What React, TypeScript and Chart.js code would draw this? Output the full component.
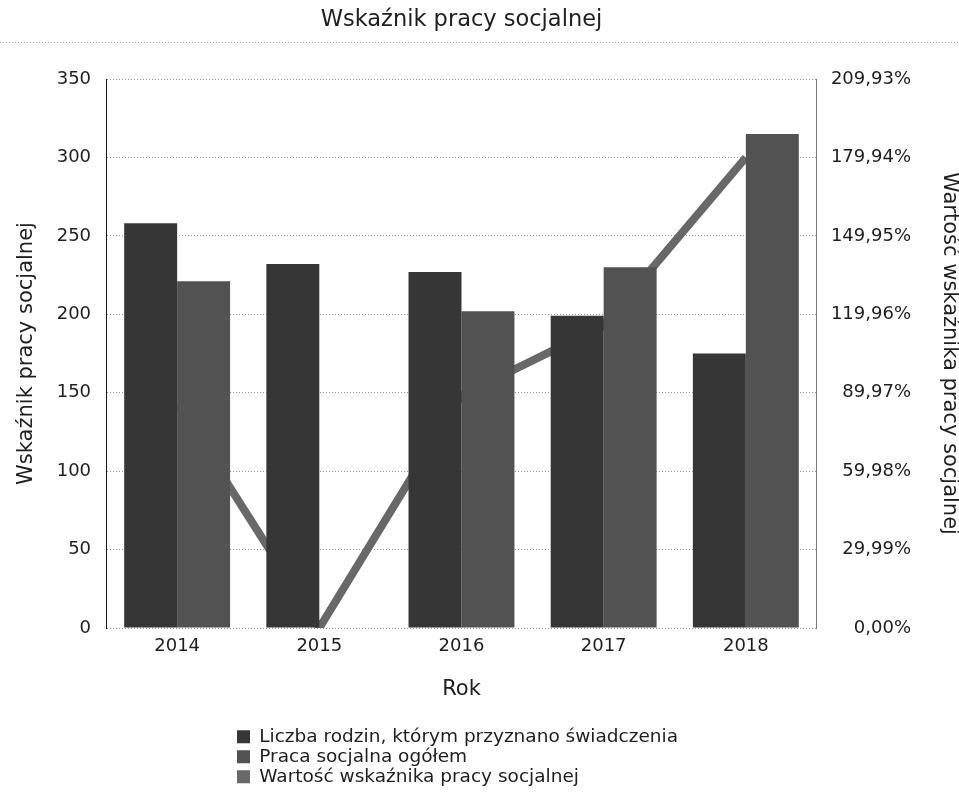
import React, { useEffect, useRef } from "react";
import { Chart, registerables } from "chart.js";

Chart.register(...registerables);

const TITLE = "Wskaźnik pracy socjalnej";
const X_TITLE = "Rok";
const Y_TITLE = "Wskaźnik pracy socjalnej";
const Y1_TITLE = "Wartość wskaźnika pracy socjalnej";

const CATEGORIES = ["2014", "2015", "2016", "2017", "2018"];
const SERIES_NAMES = [
  "Liczba rodzin, którym przyznano świadczenia",
  "Praca socjalna ogółem",
  "Wartość wskaźnika pracy socjalnej",
];
const LICZBA_RODZIN = [258, 232, 227, 199, 175];
const PRACA_SOCJALNA = [221, 0, 202, 230, 315];
const WSKAZNIK_PROC = [85.5, 0, 88.9, 115.7, 179.9];

const Y_MAX = 350;
const Y_STEP = 50;
const Y1_MAX = 209.93;
const Y1_STEP = 29.99;

const FONT = "'DejaVu Sans', Verdana, sans-serif";
const TEXT = "#1e1e1e";

const separatorPlugin = {
  id: "titleSeparator",
  beforeDraw(chart: any) {
    const ctx = chart.ctx;
    ctx.save();
    ctx.strokeStyle = "#a0a0a0";
    ctx.lineWidth = 1;
    ctx.setLineDash([1, 2]);
    ctx.beginPath();
    ctx.moveTo(0, 42.5);
    ctx.lineTo(chart.width, 42.5);
    ctx.stroke();
    ctx.restore();
  },
};

// stack the legend items one per row, starting under the plot
const legendPlacePlugin = {
  id: "legendPlace",
  afterLayout(chart: any) {
    const lg = chart.legend;
    if (lg) {
      lg.left = 235.5;
      lg.width = 470;
      lg.right = lg.left + lg.width;
      lg.height = 71;
      lg.bottom = lg.top + lg.height;
    }
  },
};

export default function App() {
  const ref = useRef<HTMLCanvasElement>(null);

  useEffect(() => {
    if (!ref.current) return;
    Chart.defaults.font.family = FONT;
    Chart.defaults.color = TEXT;

    const chart = new Chart(ref.current, {
      type: "bar",
      data: {
        labels: CATEGORIES,
        datasets: [
          {
            type: "bar",
            label: SERIES_NAMES[0],
            data: LICZBA_RODZIN,
            backgroundColor: "#363636",
            borderWidth: 0,
            yAxisID: "y",
            order: 0,
            barPercentage: 1,
            categoryPercentage: 0.745,
          },
          {
            type: "bar",
            label: SERIES_NAMES[1],
            data: PRACA_SOCJALNA,
            backgroundColor: "#525252",
            borderWidth: 0,
            yAxisID: "y",
            order: 0,
            barPercentage: 1,
            categoryPercentage: 0.745,
          },
          {
            type: "line",
            label: SERIES_NAMES[2],
            data: WSKAZNIK_PROC,
            borderColor: "#686868",
            backgroundColor: "#686868",
            borderWidth: 8,
            pointRadius: 0,
            tension: 0,
            fill: false,
            yAxisID: "y1",
            order: 1,
          } as any,
        ],
      },
      options: {
        responsive: false,
        animation: false,
        devicePixelRatio: 1,
        layout: { padding: { left: 0, right: 0, top: 0, bottom: 21 } },
        plugins: {
          title: {
            display: true,
            text: TITLE,
            fullSize: false,
            color: TEXT,
            font: { family: FONT, size: 22.5, weight: "normal" },
            padding: { top: 7, bottom: 45 },
          },
          legend: {
            display: true,
            position: "bottom",
            align: "start",
            labels: {
              color: TEXT,
              font: { family: FONT, size: 18.5 },
              boxWidth: 13,
              boxHeight: 13,
              padding: 1.5,
              generateLabels: (c: any) => {
                const items = (Chart.defaults as any).plugins.legend.labels.generateLabels(c);
                items.forEach((it: any) => {
                  it.lineWidth = 0;
                  it.strokeStyle = "rgba(0,0,0,0)";
                });
                return items;
              },
            },
          },
          tooltip: { enabled: false },
        },
        scales: {
          x: {
            type: "category",
            offset: true,
            grid: { display: false, drawTicks: false },
            border: { display: false },
            ticks: { color: TEXT, font: { family: FONT, size: 18 }, padding: 8 },
            title: {
              display: true,
              text: X_TITLE,
              color: TEXT,
              font: { family: FONT, size: 21 },
              padding: { top: 11.8, bottom: 23.4 },
            },
          },
          y: {
            position: "left",
            min: 0,
            max: Y_MAX,
            grid: { color: "#9a9a9a", lineWidth: 1, drawTicks: false },
            border: { display: true, color: "#1a1a1a", width: 1, dash: [1, 2] },
            ticks: {
              stepSize: Y_STEP,
              padding: 15,
              color: TEXT,
              font: { family: FONT, size: 18 },
            },
            title: {
              display: true,
              text: Y_TITLE,
              color: TEXT,
              font: { family: FONT, size: 21 },
              padding: { top: 14, bottom: 2.5 },
            },
          },
          y1: {
            position: "right",
            min: 0,
            max: Y1_MAX,
            grid: { drawOnChartArea: false, drawTicks: false },
            border: { display: true, color: "#777777", width: 1 },
            ticks: {
              stepSize: Y1_STEP,
              padding: 7,
              crossAlign: "far",
              color: TEXT,
              font: { family: FONT, size: 18 },
              callback: (v: any) => Number(v).toFixed(2).replace(".", ",") + "%",
            },
            title: { display: false },
          },
          y1Title: {
            type: "linear",
            position: "right",
            display: true,
            min: 0,
            max: Y1_MAX,
            grid: { display: false, drawTicks: false },
            border: { display: false },
            ticks: { display: false },
            title: {
              display: true,
              text: Y1_TITLE,
              color: TEXT,
              font: { family: FONT, size: 21 },
              padding: { top: -2.6, bottom: 25.4 },
            },
          },
        },
      } as any,
      plugins: [separatorPlugin, legendPlacePlugin],
    });

    return () => chart.destroy();
  }, []);

  return (
    <div style={{ position: "absolute", left: 0, top: 0, width: 959, height: 797, background: "#fff" }}>
      <canvas ref={ref} width={959} height={797} />
    </div>
  );
}
